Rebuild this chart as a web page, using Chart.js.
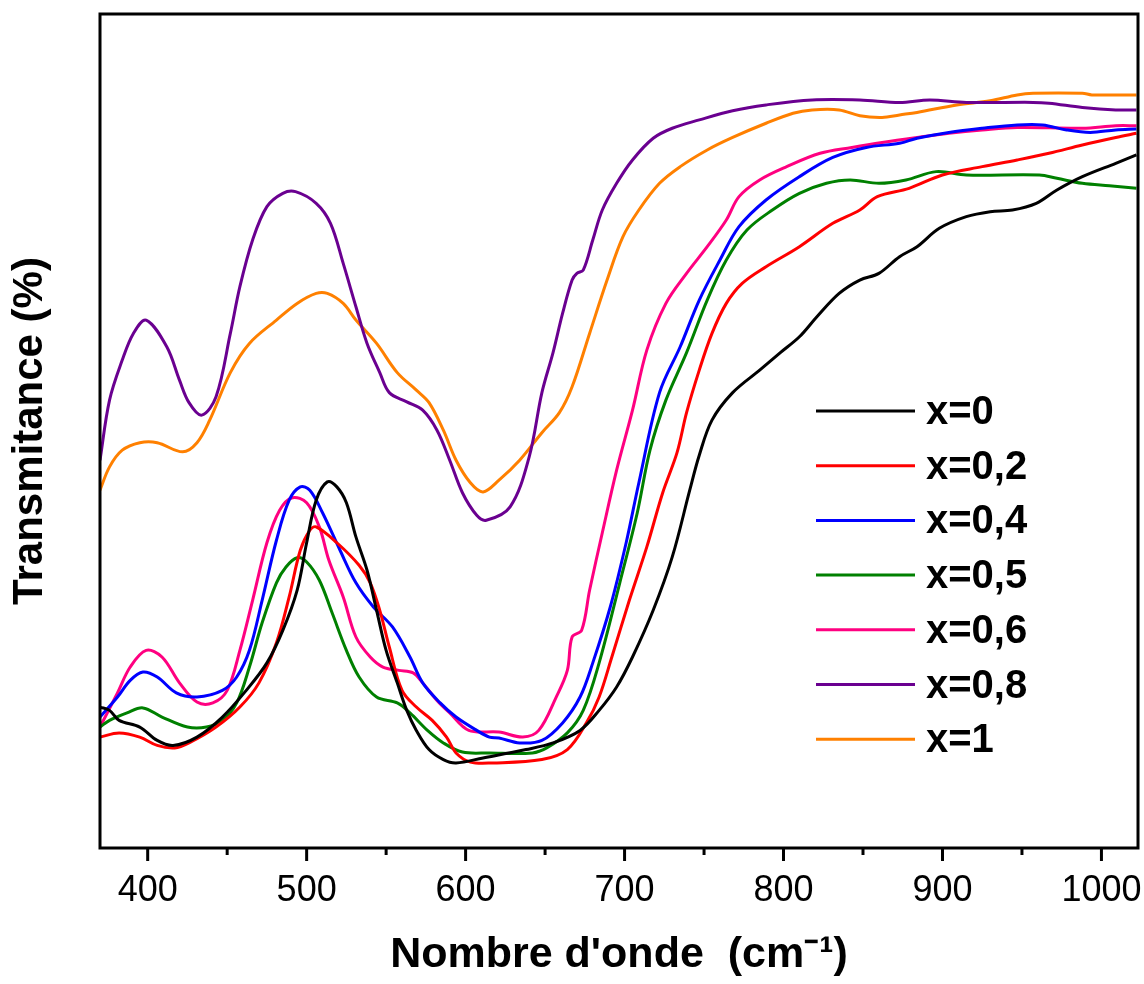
<!DOCTYPE html>
<html>
<head>
    <title>Spectres IR - Transmitance</title>
    <script src="https://cdn.jsdelivr.net/npm/chart.js"></script>
    <style>
        body {
            margin: 0;
            background-color: white;
        }

        #irChart {
            display: block;
        }
    </style>
</head>
<body>
    <canvas id="irChart" width="1144" height="984"></canvas>

    <script>
        // Wavenumbers (cm-1) and transmitance (arbitrary %) for each composition
        const wnX0 = [370, 376, 382, 395, 406, 416, 431, 447, 462, 475, 485, 494, 500, 506, 513, 519, 525, 531, 538, 544, 550, 557, 563, 569, 577, 586, 594, 611, 638, 655, 672, 684, 695, 705, 718, 730, 741, 747, 755, 768, 785, 798, 810, 821, 835, 848, 860, 873, 884, 898, 915, 930, 944, 959, 972, 988, 1009, 1022];
        const tX0 = [16.9, 16.5, 15.3, 14.5, 12.9, 12.3, 13.3, 15.7, 18.9, 22.2, 26.1, 30.9, 36.6, 41.7, 43.9, 43.3, 41.4, 37.3, 33.3, 28.5, 23.7, 19.8, 16.5, 14.1, 11.8, 10.6, 10.2, 10.8, 11.8, 12.6, 14.1, 16.5, 19.3, 22.9, 28.5, 34.9, 42.9, 47.1, 51.3, 54.6, 57.3, 59.4, 61.3, 63.7, 66.5, 68.1, 68.9, 70.9, 72.1, 74.3, 75.7, 76.3, 76.5, 77.3, 78.9, 80.5, 82.1, 83.1];

        const wnX02 = [370, 382, 395, 406, 417, 426, 443, 458, 470, 481, 489, 496, 502, 506, 519, 533, 540, 546, 552, 560, 569, 579, 588, 594, 603, 617, 648, 664, 676, 684, 692, 703, 714, 724, 733, 739, 747, 755, 764, 774, 789, 810, 831, 848, 859, 879, 900, 925, 947, 967, 988, 1009, 1022];
        const tX02 = [13.3, 13.8, 13.3, 12.3, 12.0, 12.6, 14.5, 16.9, 19.8, 24.6, 30.1, 35.7, 38.1, 38.5, 36.6, 33.9, 31.8, 28.5, 24.1, 18.9, 16.9, 15.3, 13.3, 11.4, 10.3, 10.2, 10.6, 11.8, 15.0, 18.1, 22.9, 29.7, 36.1, 42.6, 47.4, 52.2, 57.3, 61.7, 65.3, 67.7, 69.7, 72.1, 74.9, 76.5, 78.1, 79.1, 80.7, 81.7, 82.5, 83.3, 84.3, 85.2, 85.7];

        const wnX04 = [370, 381, 389, 397, 406, 418, 431, 447, 456, 464, 472, 481, 489, 496, 502, 510, 521, 531, 542, 554, 565, 573, 584, 594, 607, 615, 621, 634, 648, 661, 672, 680, 691, 701, 709, 722, 735, 747, 760, 772, 789, 810, 831, 852, 873, 884, 904, 925, 947, 963, 978, 993, 1009, 1022];
        const tX04 = [15.7, 18.1, 20.1, 21.1, 20.5, 18.6, 18.1, 18.9, 20.5, 23.7, 29.7, 36.9, 41.7, 43.3, 42.9, 40.2, 35.7, 31.8, 28.9, 26.5, 22.9, 19.8, 17.4, 15.7, 14.1, 13.3, 13.2, 12.6, 12.9, 15.0, 18.1, 22.2, 28.9, 36.6, 43.8, 54.6, 60.1, 65.7, 70.5, 74.5, 77.7, 80.5, 82.8, 84.0, 84.5, 85.1, 85.8, 86.3, 86.7, 86.7, 86.1, 85.8, 86.1, 86.2];

        const wnX05 = [370, 376, 387, 397, 409, 425, 437, 447, 456, 464, 472, 481, 487, 494, 500, 508, 516, 525, 533, 544, 557, 565, 576, 586, 598, 615, 642, 651, 664, 674, 684, 697, 708, 716, 726, 739, 752, 764, 777, 793, 810, 827, 842, 860, 877, 896, 915, 961, 972, 988, 1005, 1022];
        const tX05 = [14.5, 15.3, 16.2, 16.8, 15.7, 14.5, 14.5, 15.3, 17.4, 21.7, 27.0, 31.8, 33.7, 34.8, 34.3, 32.1, 28.2, 23.7, 20.5, 18.1, 17.4, 16.2, 14.1, 12.6, 11.5, 11.4, 11.4, 12.0, 13.8, 16.5, 22.2, 31.8, 40.2, 47.7, 53.7, 59.4, 65.7, 70.5, 74.1, 76.5, 78.5, 79.7, 80.1, 79.7, 80.1, 81.1, 80.7, 80.7, 80.3, 79.7, 79.4, 79.1];

        const wnX06 = [370, 381, 389, 399, 409, 420, 431, 441, 450, 458, 466, 475, 483, 491, 500, 508, 514, 523, 531, 540, 548, 558, 567, 573, 582, 590, 602, 621, 636, 646, 657, 664, 667, 673, 678, 686, 695, 705, 714, 726, 739, 752, 764, 772, 785, 802, 823, 843, 862, 884, 904, 925, 947, 988, 1009, 1022];
        const tX06 = [14.5, 18.6, 21.7, 23.7, 22.9, 19.8, 17.5, 17.4, 18.9, 23.7, 29.7, 36.6, 40.5, 42.0, 41.4, 38.5, 34.5, 30.1, 25.3, 22.9, 21.7, 21.3, 21.0, 19.8, 17.7, 16.2, 14.1, 13.9, 13.3, 14.1, 18.1, 21.3, 25.3, 26.1, 30.9, 37.8, 45.3, 52.5, 59.7, 65.3, 68.9, 72.1, 75.3, 78.1, 80.1, 81.7, 83.3, 84.0, 84.6, 85.2, 85.7, 86.1, 86.4, 86.3, 86.6, 86.6];

        const wnX08 = [370, 376, 384, 391, 399, 412, 420, 426, 434, 443, 452, 458, 466, 475, 485, 493, 506, 515, 523, 531, 538, 546, 552, 563, 573, 582, 590, 598, 607, 613, 628, 640, 648, 655, 661, 667, 670, 674, 680, 686, 695, 705, 718, 730, 747, 768, 789, 818, 848, 873, 892, 915, 957, 967, 988, 1009, 1022];
        const tX08 = [46.5, 53.7, 58.5, 61.7, 63.3, 60.1, 56.1, 53.4, 51.9, 54.1, 61.7, 67.3, 72.9, 76.9, 78.5, 78.7, 77.3, 74.9, 70.1, 64.9, 60.5, 57.0, 54.6, 53.5, 52.5, 50.1, 46.5, 42.6, 39.9, 39.3, 40.9, 46.9, 54.6, 59.4, 64.1, 68.1, 68.9, 69.3, 72.9, 76.5, 79.7, 82.5, 85.1, 86.3, 87.3, 88.4, 89.1, 89.7, 89.7, 89.4, 89.7, 89.4, 89.4, 89.3, 88.8, 88.5, 88.5];

        const wnX1 = [370, 376, 384, 395, 406, 422, 431, 439, 452, 464, 481, 494, 506, 513, 523, 531, 544, 557, 569, 577, 586, 594, 603, 611, 621, 634, 648, 659, 667, 678, 689, 699, 709, 722, 735, 752, 768, 789, 806, 818, 835, 848, 862, 873, 884, 909, 930, 947, 957, 988, 994, 1022];
        const tX1 = [42.9, 45.7, 47.7, 48.6, 48.6, 47.5, 48.6, 51.3, 57.0, 60.5, 63.3, 65.3, 66.5, 66.5, 65.3, 63.3, 60.5, 57.0, 54.9, 53.4, 50.1, 46.5, 43.8, 42.7, 44.1, 46.5, 49.8, 52.2, 55.3, 61.7, 68.1, 73.3, 76.5, 79.7, 81.7, 83.7, 85.2, 86.9, 88.1, 88.5, 88.5, 87.8, 87.6, 87.9, 88.2, 89.1, 89.6, 90.3, 90.5, 90.5, 90.3, 90.3];

        const seriesLabels = ['x=0', 'x=0,2', 'x=0,4', 'x=0,5', 'x=0,6', 'x=0,8', 'x=1'];
        const seriesColors = ['#000000', '#ff0000', '#0000ff', '#008000', '#ff0080', '#6a0090', '#ff8000'];
        const seriesWn = [wnX0, wnX02, wnX04, wnX05, wnX06, wnX08, wnX1];
        const seriesT = [tX0, tX02, tX04, tX05, tX06, tX08, tX1];

        const FONT = '"Liberation Sans", Arial, Helvetica, sans-serif';

        // Black frame around the plot plus major/minor ticks on the bottom axis
        const framePlugin = {
            id: 'frame',
            afterDraw(chart) {
                const { ctx, chartArea } = chart;
                const xs = chart.scales.x;
                ctx.save();
                ctx.strokeStyle = '#000';
                ctx.lineWidth = 3;
                ctx.strokeRect(chartArea.left, chartArea.top,
                    chartArea.right - chartArea.left, chartArea.bottom - chartArea.top);
                for (let v = 400; v <= 1000; v += 50) {
                    const px = xs.getPixelForValue(v);
                    const len = v % 100 === 0 ? 13 : 7;
                    ctx.beginPath();
                    ctx.moveTo(px, chartArea.bottom);
                    ctx.lineTo(px, chartArea.bottom + len);
                    ctx.stroke();
                }
                ctx.restore();
            }
        };

        // Legend drawn inside the plot, lower right
        const insideLegend = {
            id: 'insideLegend',
            afterDraw(chart) {
                const { ctx } = chart;
                const x0 = 816, x1 = 915, textX = 926, y0 = 411, step = 54.7;
                ctx.save();
                ctx.font = 'bold 40px ' + FONT;
                ctx.textBaseline = 'middle';
                ctx.fillStyle = '#000';
                chart.data.datasets.forEach((ds, i) => {
                    const y = y0 + i * step;
                    ctx.strokeStyle = ds.borderColor;
                    ctx.lineWidth = 3;
                    ctx.beginPath();
                    ctx.moveTo(x0, y);
                    ctx.lineTo(x1, y);
                    ctx.stroke();
                    ctx.fillText(ds.label, textX, y + 2);
                });
                ctx.restore();
            }
        };

        function createChart() {
            const ctx = document.getElementById('irChart').getContext('2d');
            new Chart(ctx, {
                type: 'line',
                data: {
                    datasets: seriesLabels.map((label, i) => ({
                        label: label,
                        data: seriesWn[i].map((w, j) => ({ x: w, y: seriesT[i][j] })),
                        borderColor: seriesColors[i],
                        borderWidth: 3,
                        pointRadius: 0,
                        fill: false,
                        tension: 0.35
                    }))
                },
                options: {
                    responsive: false,
                    animation: false,
                    layout: {
                        padding: { top: 14, right: 6, left: 0, bottom: 0 }
                    },
                    plugins: {
                        legend: { display: false },
                        tooltip: { enabled: false }
                    },
                    scales: {
                        x: {
                            type: 'linear',
                            min: 370,
                            max: 1023,
                            grid: { display: false, drawTicks: false },
                            border: { display: false },
                            ticks: {
                                stepSize: 100,
                                includeBounds: false,
                                padding: 21,
                                color: '#000',
                                maxRotation: 0,
                                font: { family: FONT, size: 36 },
                                callback: (value) => String(value)
                            },
                            title: {
                                display: true,
                                text: "Nombre d'onde  (cm\u207B\u00B9)",
                                color: '#000',
                                padding: { top: 0, bottom: 3 },
                                font: { family: FONT, size: 43, weight: 'bold' }
                            },
                            afterFit(scale) {
                                scale.height = 136;
                                scale.paddingLeft = 0;
                                scale.paddingRight = 0;
                            }
                        },
                        y: {
                            min: 0,
                            max: 100,
                            grid: { display: false, drawTicks: false },
                            border: { display: false },
                            ticks: { display: false },
                            title: {
                                display: true,
                                text: 'Transmitance (%)',
                                color: '#000',
                                padding: { top: 5, bottom: 0 },
                                font: { family: FONT, size: 42, weight: 'bold' }
                            },
                            afterFit(scale) { scale.width = 100; }
                        }
                    }
                },
                plugins: [framePlugin, insideLegend]
            });
        }

        createChart();
    </script>
</body>
</html>
